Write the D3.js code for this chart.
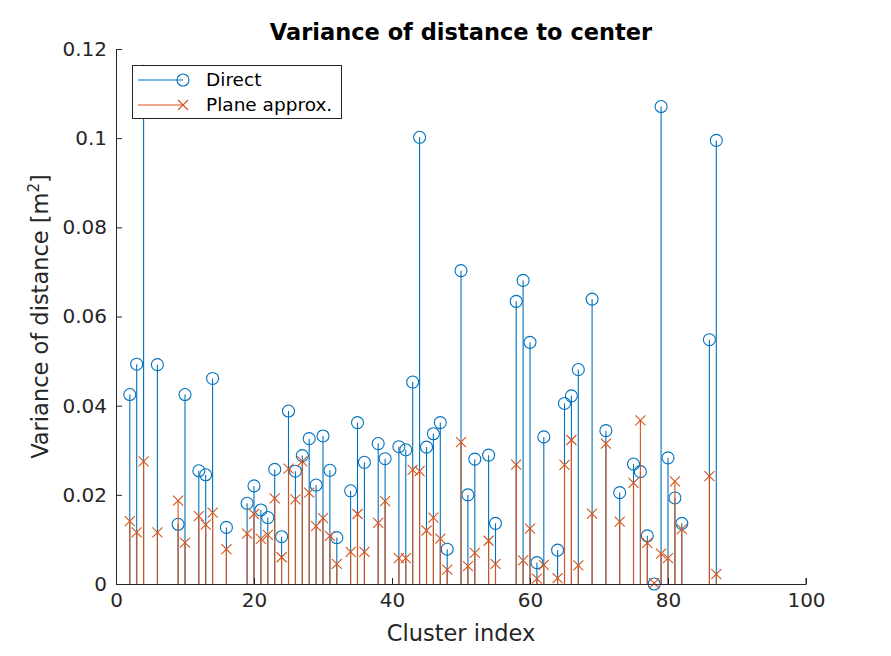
<!DOCTYPE html>
<html>
<head>
<meta charset="utf-8">
<script src="https://cdn.jsdelivr.net/npm/d3@7"></script>
<style>
  body { margin: 0; background: #fff; }
  svg { font-family: "DejaVu Sans", sans-serif; }
</style>
</head>
<body>
<svg id="chart" width="891" height="656"></svg>
<script>
// cluster indices
var clusterIdx = [2, 3, 4, 6, 9, 10, 12, 13, 14, 16, 19, 20, 21, 22, 23, 24, 25, 26, 27, 28,
  29, 30, 31, 32, 34, 35, 36, 38, 39, 41, 42, 43, 44, 45, 46, 47, 48, 50, 51, 52,
  54, 55, 58, 59, 60, 61, 62, 64, 65, 66, 67, 69, 71, 73, 75, 76, 77, 78, 79, 80,
  81, 82, 86, 87];
// variance, direct computation
var directVals = [0.0425, 0.0493, 0.115, 0.0492, 0.0134, 0.0425, 0.0254, 0.0245, 0.0461, 0.0127,
  0.0181, 0.0220, 0.0166, 0.0149, 0.0257, 0.0106, 0.0388, 0.0253, 0.0288, 0.0326,
  0.0222, 0.0332, 0.0255, 0.0104, 0.0209, 0.0362, 0.0273, 0.0315, 0.0281, 0.0308,
  0.0301, 0.0453, 0.1002, 0.0307, 0.0337, 0.0362, 0.0078, 0.0703, 0.0200, 0.0280,
  0.0289, 0.0136, 0.0634, 0.0681, 0.0542, 0.0048, 0.0330, 0.0076, 0.0405, 0.0422,
  0.0481, 0.0639, 0.0344, 0.0205, 0.0269, 0.0252, 0.0108, 0.0000, 0.1071, 0.0283,
  0.0193, 0.0136, 0.0548, 0.0995];
// variance, plane approximation
var planeVals = [0.0141, 0.0116, 0.0275, 0.0116, 0.0187, 0.0093, 0.0152, 0.0133, 0.0160, 0.0078,
  0.0113, 0.0157, 0.0101, 0.0110, 0.0192, 0.0060, 0.0259, 0.0190, 0.0275, 0.0205,
  0.0130, 0.0148, 0.0108, 0.0045, 0.0072, 0.0157, 0.0072, 0.0137, 0.0186, 0.0058,
  0.0058, 0.0256, 0.0253, 0.0120, 0.0149, 0.0102, 0.0032, 0.0318, 0.0040, 0.0070,
  0.0097, 0.0045, 0.0268, 0.0053, 0.0124, 0.0012, 0.0043, 0.0013, 0.0267, 0.0323,
  0.0042, 0.0158, 0.0315, 0.0140, 0.0227, 0.0367, 0.0092, 0.0002, 0.0068, 0.0058,
  0.0230, 0.0123, 0.0242, 0.0022];
var xTicks = [0, 20, 40, 60, 80, 100];
var yTicks = [0, 0.02, 0.04, 0.06, 0.08, 0.1, 0.12];
var seriesNames = ["Direct", "Plane approx."];

var blue = "#0072BD";
var orange = "#D95319";
var axisColor = "#262626";

var dims = { left: 116, right: 806, top: 49, bottom: 584 };

var svg = d3.select("#chart");

var xScale = d3.scaleLinear().domain([0, 100]).range([dims.left, dims.right]);
var yScale = d3.scaleLinear().domain([0, 0.12]).range([dims.bottom, dims.top]);

var plot = svg.append("g");
svg.append("defs").append("clipPath").attr("id", "clipArea")
  .append("rect")
  .attr("x", dims.left - 10).attr("y", dims.top)
  .attr("width", dims.right - dims.left + 20).attr("height", dims.bottom - dims.top + 10);
plot.attr("clip-path", "url(#clipArea)");

var directData = clusterIdx.map(function (c, i) { return { x: c, y: directVals[i] }; });
var planeData = clusterIdx.map(function (c, i) { return { x: c, y: planeVals[i] }; });

// direct stems
plot.selectAll(".stemD").data(directData).enter().append("line")
  .attr("x1", function (d) { return xScale(d.x); })
  .attr("x2", function (d) { return xScale(d.x); })
  .attr("y1", yScale(0))
  .attr("y2", function (d) { return yScale(d.y); })
  .attr("stroke", blue).attr("stroke-width", 1.1);
plot.selectAll(".mkD").data(directData).enter().append("circle")
  .attr("cx", function (d) { return xScale(d.x); })
  .attr("cy", function (d) { return yScale(d.y); })
  .attr("r", 6)
  .attr("fill", "none").attr("stroke", blue).attr("stroke-width", 1.1);

// plane approx stems
plot.selectAll(".stemP").data(planeData).enter().append("line")
  .attr("x1", function (d) { return xScale(d.x); })
  .attr("x2", function (d) { return xScale(d.x); })
  .attr("y1", yScale(0))
  .attr("y2", function (d) { return yScale(d.y); })
  .attr("stroke", orange).attr("stroke-width", 1.1);
var crossSize = 5;
plot.selectAll(".mkP").data(planeData).enter().append("path")
  .attr("d", function (d) {
    var cx = xScale(d.x), cy = yScale(d.y), s = crossSize;
    return "M" + (cx - s) + "," + (cy - s) + "L" + (cx + s) + "," + (cy + s) +
      "M" + (cx - s) + "," + (cy + s) + "L" + (cx + s) + "," + (cy - s);
  })
  .attr("fill", "none").attr("stroke", orange).attr("stroke-width", 1.1);

// axes
var xAxis = d3.axisBottom(xScale).tickValues(xTicks).tickSizeInner(-6).tickSizeOuter(0).tickPadding(9);
var gx = svg.append("g").attr("transform", "translate(0," + dims.bottom + ")").call(xAxis);
gx.select(".domain").attr("stroke", axisColor);
gx.selectAll(".tick line").attr("stroke", axisColor);
gx.selectAll("text").attr("fill", axisColor).style("font-size", "20px")
  .style("font-family", "DejaVu Sans, sans-serif");
// right end tick of x axis
gx.append("line").attr("x1", dims.right).attr("x2", dims.right).attr("y1", 0).attr("y2", -6).attr("stroke", axisColor);

var yAxis = d3.axisLeft(yScale).tickValues(yTicks).tickSizeInner(-6).tickSizeOuter(0).tickPadding(9)
  .tickFormat(function (d) { return d === 0 ? "0" : String(+d.toFixed(2)); });
var gy = svg.append("g").attr("transform", "translate(" + dims.left + ",0)").call(yAxis);
gy.select(".domain").attr("stroke", axisColor);
gy.selectAll(".tick line").attr("stroke", axisColor);
gy.selectAll("text").attr("fill", axisColor).style("font-size", "20px")
  .style("font-family", "DejaVu Sans, sans-serif");

// labels
svg.append("text")
  .attr("x", (dims.left + dims.right) / 2).attr("y", 40)
  .attr("text-anchor", "middle")
  .style("font-size", "22.5px").style("font-weight", "bold").attr("fill", "#000")
  .text("Variance of distance to center");

svg.append("text")
  .attr("x", (dims.left + dims.right) / 2).attr("y", 641)
  .attr("text-anchor", "middle")
  .style("font-size", "22.5px").attr("fill", axisColor)
  .text("Cluster index");

var yLab = svg.append("text")
  .attr("transform", "translate(48," + ((dims.top + dims.bottom) / 2) + ") rotate(-90)")
  .attr("text-anchor", "middle")
  .style("font-size", "22.5px").attr("fill", axisColor);
yLab.append("tspan").text("Variance of distance [m");
yLab.append("tspan").attr("baseline-shift", "super").style("font-size", "15px").text("2");
yLab.append("tspan").text("]");

// legend
var leg = svg.append("g");
leg.append("rect")
  .attr("x", 132.5).attr("y", 65.5).attr("width", 209).attr("height", 53)
  .attr("fill", "#fff").attr("stroke", axisColor).attr("stroke-width", 1);
var legRows = [{ name: seriesNames[0], color: blue, y: 80 }, { name: seriesNames[1], color: orange, y: 105 }];
legRows.forEach(function (r, i) {
  leg.append("line").attr("x1", 138).attr("x2", 183).attr("y1", r.y).attr("y2", r.y)
    .attr("stroke", r.color).attr("stroke-width", 1.1);
  if (i === 0) {
    leg.append("circle").attr("cx", 183).attr("cy", r.y).attr("r", 6)
      .attr("fill", "none").attr("stroke", r.color).attr("stroke-width", 1.1);
  } else {
    var s = crossSize;
    leg.append("path")
      .attr("d", "M" + (183 - s) + "," + (r.y - s) + "L" + (183 + s) + "," + (r.y + s) +
        "M" + (183 - s) + "," + (r.y + s) + "L" + (183 + s) + "," + (r.y - s))
      .attr("stroke", r.color).attr("stroke-width", 1.1).attr("fill", "none");
  }
  leg.append("text").attr("x", 206).attr("y", r.y).attr("dy", "0.35em")
    .style("font-size", "18.5px").attr("fill", "#000").text(r.name);
});
</script>
</body>
</html>
